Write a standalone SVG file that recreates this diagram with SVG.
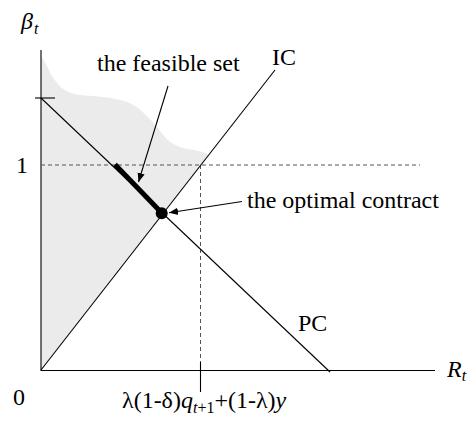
<svg xmlns="http://www.w3.org/2000/svg" width="469" height="423" viewBox="0 0 469 423">
<style>
text{font-size:24px;fill:#000}
.it{font-style:italic}
.sub{font-size:16px}
.ln{stroke:#000;stroke-width:1.1;fill:none}
.dash{stroke:#555;stroke-width:1;stroke-dasharray:4 3;fill:none}
</style>
<defs>
<marker id="ah" viewBox="0 0 10 10" refX="10" refY="5" markerWidth="9" markerHeight="9" markerUnits="userSpaceOnUse" orient="auto">
<path d="M0,1 L10,5 L0,9 Z" fill="#000"/>
</marker>
</defs>
<g id="feasible-region">
<path d="M41,56 C46,62 50,75 57,83 C62,89 68,93 80,95 C92,96 112,97 127,102 C140,107 148,117 157,127 C163,135 170,145 183,148 C193,150 203,151 209,155 L41,370 Z" fill="#ebebeb"/>
</g>
<g id="axes">
<line class="ln" x1="41" y1="50" x2="41" y2="371"/>
<line class="ln" x1="41" y1="370.5" x2="435" y2="370.5"/>
<line class="ln" x1="35" y1="98" x2="55" y2="98"/>
<line class="ln" x1="200.5" y1="362" x2="200.5" y2="392"/>
</g>
<g id="guides">
<line class="dash" x1="41" y1="165" x2="420" y2="165"/>
<line class="dash" x1="200.5" y1="165" x2="200.5" y2="362"/>
</g>
<g id="connectors">
<line id="PC" class="ln" x1="41" y1="98" x2="330" y2="372"/>
<line id="IC" class="ln" x1="41" y1="370" x2="275" y2="70"/>
<line class="ln" x1="168" y1="86" x2="138.5" y2="182" marker-end="url(#ah)"/>
<line class="ln" x1="242" y1="201.5" x2="169" y2="212.7" marker-end="url(#ah)"/>
</g>
<g id="feasible-set">
<line x1="115" y1="164.5" x2="162" y2="213.3" stroke="#000" stroke-width="5"/>
</g>
<g id="optimal-contract">
<circle cx="161.7" cy="213.3" r="6" fill="#000"/>
</g>
<g id="labels" font-family="'Liberation Serif', 'Times New Roman', 'DejaVu Serif', serif">
<text x="21" y="29" class="it">β<tspan class="sub" dx="1" dy="5">t</tspan></text>
<text x="97" y="71">the feasible set</text>
<text x="272" y="65">IC</text>
<text x="16" y="173">1</text>
<text x="247" y="208">the optimal contract</text>
<text x="298" y="331">PC</text>
<text x="13" y="405">0</text>
<text x="447" y="377" class="it">R<tspan class="sub" dy="4">t</tspan></text>
<text x="122" y="408">λ(1-δ)<tspan class="it">q</tspan><tspan class="sub it" dy="5">t</tspan><tspan class="sub">+1</tspan><tspan dy="-5">+(1-λ)</tspan><tspan class="it">y</tspan></text>
</g>
</svg>
